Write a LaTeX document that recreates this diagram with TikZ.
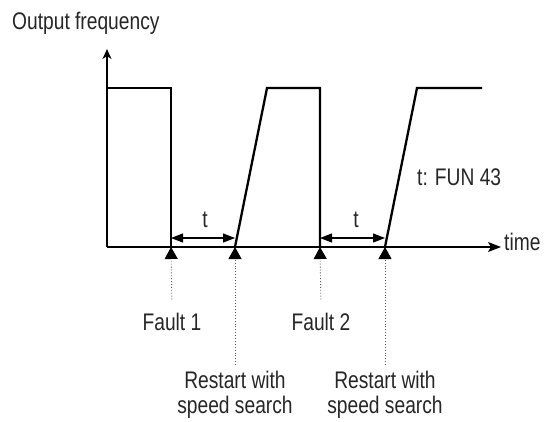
\documentclass[tikz,border=0pt]{standalone}
\usepackage{fontspec}
\setmainfont[FakeStretch=0.8]{Liberation Sans}
\usetikzlibrary{arrows.meta}
\begin{document}
\begin{tikzpicture}[x=1pt,y=-1pt,
  axis/.style={line width=1.2pt},
  wave/.style={line width=2.3pt, line join=miter},
  gap/.style={line width=1.2pt, {Triangle[length=12pt,width=9pt]}-{Triangle[length=12pt,width=9pt]}},
  event/.style={dotted, line width=0.9pt, draw=black!65, -{Triangle[length=12pt,width=13pt,color=black]}},
  lbl/.style={font=\fontsize{24}{25}\selectfont, text=black!85, inner sep=3pt}]
\useasboundingbox (0,0) rectangle (549,421);
% axis
\coordinate (o) at (107,247);
\coordinate (ytop) at (107,49);
\coordinate (xend) at (501,247);
\draw[axis,-{Stealth[length=10pt,width=9pt,inset=3pt]}] (o) -- (ytop);
\draw[axis,-{Stealth[length=13pt,width=10pt,inset=3pt]}] (o) -- (xend);
% events on the time axis
\coordinate (f1) at (171,247);
\coordinate (r1) at (235,247);
\coordinate (f2) at (320,247);
\coordinate (r2) at (385,247);
% waveform
\draw[wave] (107,88) -- (f1 |- 0,88) -- (f1);
\draw[wave] (r1) -- (267,88) -- (f2 |- 0,88) -- (f2);
\draw[wave] (r2) -- (417,88) -- (482,88);
% gap arrows
\draw[gap] (171,238) -- (235,238);
\draw[gap] (320,238) -- (385,238);
\node[lbl,anchor=base] (t1) at (205,227) {t};
\node[lbl,anchor=base] (t2) at (356,227) {t};
\node[lbl,anchor=base west] (fun) at (414,185) {t: FUN 43};
% labels
\node[lbl,anchor=base west] (ylab) at (9,29) {Output frequency};
\node[lbl,anchor=base west] (xlab) at (501,250) {time};
\node[lbl,anchor=base] (fault1) at (172,330) {Fault 1};
\node[lbl,anchor=base] (fault2) at (321,330) {Fault 2};
\node[lbl,anchor=north,align=center] (rs1) at (235,368) {Restart with\\speed search};
\node[lbl,anchor=north,align=center] (rs2) at (385,368) {Restart with\\speed search};
% event markers
\draw[event,shorten <=10pt] (fault1.north) -- (f1);
\draw[event,shorten <=10pt] (fault2.north) -- (f2);
\draw[event,shorten <=3pt] (rs1.north) -- (r1);
\draw[event,shorten <=3pt] (rs2.north) -- (r2);
\end{tikzpicture}
\end{document}
